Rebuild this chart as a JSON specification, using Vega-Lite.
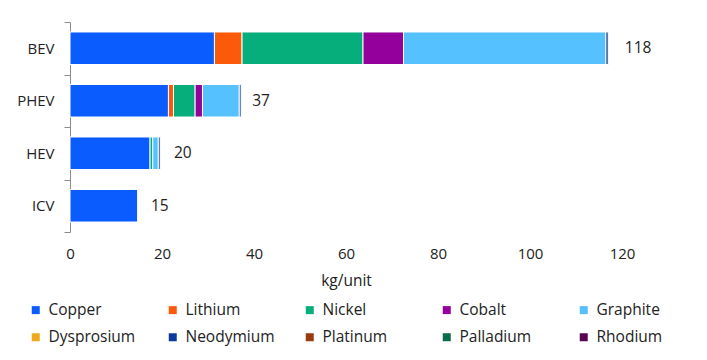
{
  "$schema": "https://vega.github.io/schema/vega-lite/v6.json",
  "width": 552,
  "height": 210,
  "autosize": {"type": "none"},
  "padding": {"left": 70, "top": 22, "right": 85, "bottom": 128},
  "config": {
    "font": "Open Sans",
    "view": {"stroke": null},
    "axis": {"labelFont": "Open Sans", "labelFontSize": 15, "labelColor": "#222222", "titleFont": "Open Sans", "titleFontSize": 15.5, "titleFontWeight": "normal", "titleColor": "#222222"},
    "legend": {"labelFont": "Open Sans", "labelFontSize": 15.5, "labelColor": "#222222"}
  },
  "datasets": {
    "segments": [
      {"vehicle": "BEV", "material": "Copper", "value": 31.4},
      {"vehicle": "BEV", "material": "Lithium", "value": 6.0},
      {"vehicle": "BEV", "material": "Nickel", "value": 26.3},
      {"vehicle": "BEV", "material": "Cobalt", "value": 8.8},
      {"vehicle": "BEV", "material": "Graphite", "value": 44.0},
      {"vehicle": "BEV", "material": "Neodymium", "value": 0.5},
      {"vehicle": "PHEV", "material": "Copper", "value": 21.4},
      {"vehicle": "PHEV", "material": "Lithium", "value": 1.1},
      {"vehicle": "PHEV", "material": "Nickel", "value": 4.7},
      {"vehicle": "PHEV", "material": "Cobalt", "value": 1.6},
      {"vehicle": "PHEV", "material": "Graphite", "value": 8.0},
      {"vehicle": "PHEV", "material": "Neodymium", "value": 0.4},
      {"vehicle": "HEV", "material": "Copper", "value": 17.4},
      {"vehicle": "HEV", "material": "Nickel", "value": 0.6},
      {"vehicle": "HEV", "material": "Graphite", "value": 1.2},
      {"vehicle": "HEV", "material": "Neodymium", "value": 0.4},
      {"vehicle": "ICV", "material": "Copper", "value": 14.7}
    ],
    "totals": [
      {"vehicle": "BEV", "total": 118},
      {"vehicle": "PHEV", "total": 37},
      {"vehicle": "HEV", "total": 20},
      {"vehicle": "ICV", "total": 15}
    ]
  },
  "layer": [
    {
      "data": {"name": "segments"},
      "transform": [
        {"calculate": "indexof(['Copper','Lithium','Nickel','Cobalt','Graphite','Dysprosium','Neodymium','Platinum','Palladium','Rhodium'], datum.material)", "as": "stackOrder"}
      ],
      "mark": {"type": "bar", "height": {"band": 0.62}, "stroke": "white", "strokeWidth": 1},
      "encoding": {
        "y": {
          "field": "vehicle", "type": "nominal", "sort": ["BEV", "PHEV", "HEV", "ICV"],
          "scale": {"paddingInner": 0, "paddingOuter": 0},
          "axis": {"title": null, "tickBand": "extent", "tickSize": 6, "labelPadding": 10, "domainColor": "#8c8c8c", "tickColor": "#8c8c8c"}
        },
        "x": {
          "field": "value", "type": "quantitative", "stack": "zero",
          "scale": {"domain": [0, 120], "nice": false},
          "axis": {"title": "kg/unit", "values": [0, 20, 40, 60, 80, 100, 120], "grid": false, "domain": false, "ticks": false, "labelFlush": false, "labelPadding": 14, "titlePadding": 12}
        },
        "color": {
          "field": "material", "type": "nominal",
          "scale": {
            "domain": ["Copper", "Lithium", "Nickel", "Cobalt", "Graphite", "Dysprosium", "Neodymium", "Platinum", "Palladium", "Rhodium"],
            "range": ["#0A5CFF", "#FA5A0A", "#06AE7B", "#93009B", "#55C1FF", "#F2A81D", "#0D3A9A", "#9A3A10", "#0A6C4B", "#56074F"]
          },
          "legend": {"title": null, "orient": "none", "legendX": -42, "legendY": 280, "columns": 5, "direction": "horizontal", "symbolType": "square", "symbolSize": 64, "symbolStrokeWidth": 0, "labelOffset": 5, "rowPadding": 10.5, "columnPadding": 27, "gridAlign": "all"}
        },
        "order": {"field": "stackOrder", "type": "quantitative"}
      }
    },
    {
      "data": {"name": "totals"},
      "mark": {"type": "text", "align": "left", "baseline": "middle", "dx": 12, "fontSize": 15.5, "font": "Open Sans", "color": "#222222"},
      "encoding": {
        "y": {"field": "vehicle", "type": "nominal", "sort": ["BEV", "PHEV", "HEV", "ICV"]},
        "x": {"field": "total", "type": "quantitative"},
        "text": {"field": "total", "type": "quantitative"}
      }
    }
  ]
}
